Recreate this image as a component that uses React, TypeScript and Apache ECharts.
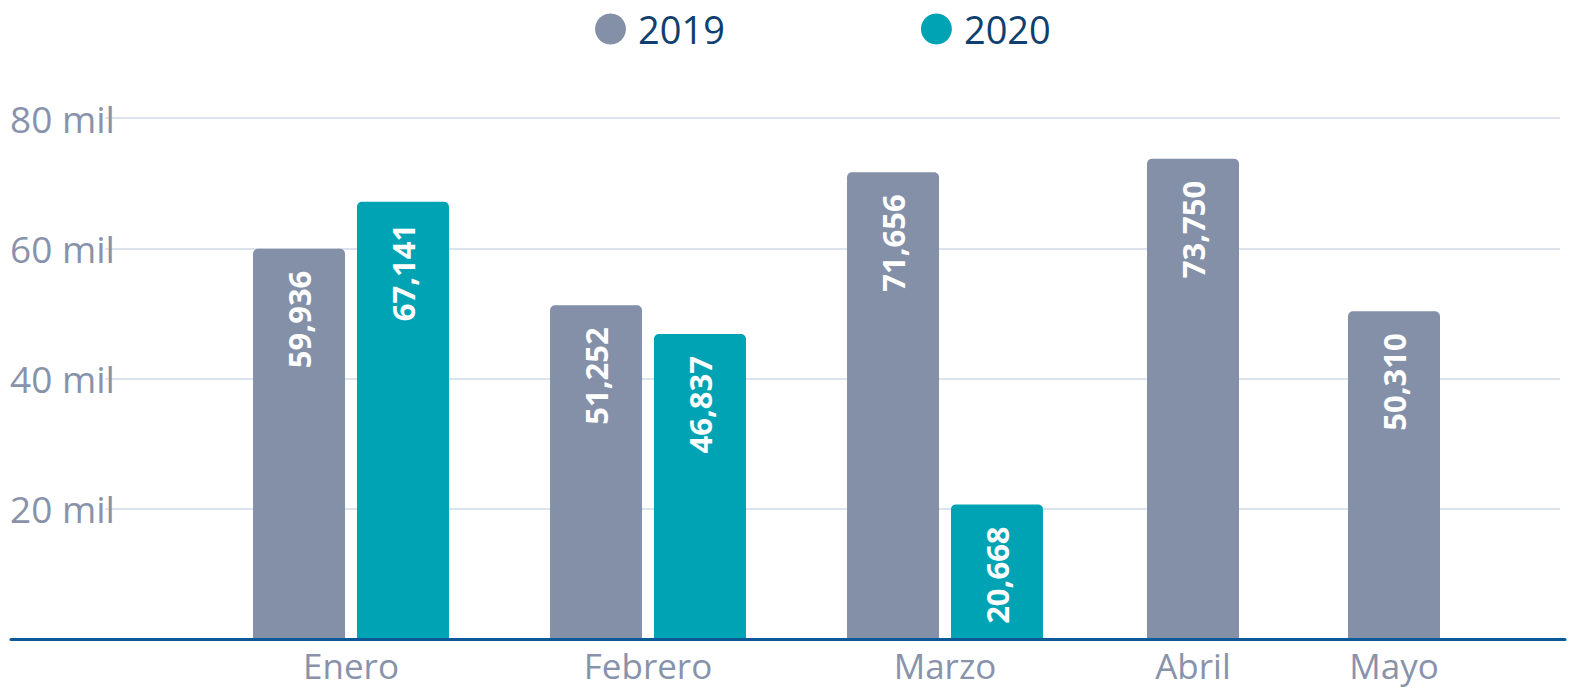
import React, { useEffect, useRef } from "react";
import * as echarts from "echarts";

const months = ["Enero", "Febrero", "Marzo", "Abril", "Mayo"];
const values2019 = [59936, 51252, 71656, 73750, 50310];
const values2020 = [67141, 46837, 20668];
const yTicks = [0, 20000, 40000, 60000, 80000];

const GRAY = "#8490a8";
const TEAL = "#00a3b4";
const AXIS_TXT = "#8893ab";
const FONT = "'Open Sans', sans-serif";

export default function App() {
  const ref = useRef<HTMLDivElement>(null);
  useEffect(() => {
    if (!ref.current) return;
    const chart = echarts.init(ref.current, null, { renderer: "svg" });
    const pairMonths = months.slice(0, values2020.length);
    const singleMonths = months.slice(values2020.length);
    const yMax = yTicks[yTicks.length - 1];
    const barLabel = {
      show: true,
      position: "insideTop",
      rotate: 90,
      align: "right",
      verticalAlign: "middle",
      distance: 22,
      color: "#ffffff",
      fontWeight: "bold",
      fontSize: 31,
      fontFamily: FONT,
      formatter: (p: any) => Number(p.value).toLocaleString("en-US"),
    };
    const catLabel = { color: AXIS_TXT, fontSize: 35, fontFamily: FONT, margin: 9 };
    const hiddenY = (gi: number) => ({
      type: "value",
      gridIndex: gi,
      min: 0,
      max: yMax,
      interval: 20000,
      show: false,
    });
    chart.setOption({
      animation: false,
      legend: {
        data: ["2019", "2020"],
        left: 590,
        top: 5,
        icon: "circle",
        itemWidth: 31,
        itemHeight: 31,
        itemGap: 196,
        textStyle: { fontSize: 38, color: "#0e3f6e", fontFamily: FONT, padding: [0, 0, 0, 7] },
      },
      grid: [
        { left: 105, right: 11, top: 118, bottom: 51 },
        { left: 202.5, right: 477.5, top: 118, bottom: 51 },
        { left: 1092.5, right: 76.5, top: 118, bottom: 51 },
        { left: 11, right: 6, top: 118, bottom: 51 },
      ],
      xAxis: [
        { type: "category", gridIndex: 0, data: ["a"], show: false },
        {
          type: "category",
          gridIndex: 1,
          data: pairMonths,
          axisLine: { show: false },
          axisTick: { show: false },
          axisLabel: catLabel,
        },
        {
          type: "category",
          gridIndex: 2,
          data: singleMonths,
          axisLine: { show: false },
          axisTick: { show: false },
          axisLabel: catLabel,
        },
        {
          type: "category",
          gridIndex: 3,
          data: ["a"],
          axisLine: { show: true, lineStyle: { color: "#0b5a97", width: 3 } },
          axisTick: { show: false },
          axisLabel: { show: false },
          z: 10,
        },
      ],
      yAxis: [
        {
          type: "value",
          gridIndex: 0,
          min: 0,
          max: yMax,
          interval: 20000,
          axisLine: { show: false },
          axisTick: { show: false },
          splitLine: { lineStyle: { color: "#dde3ee", width: 2 } },
          axisLabel: {
            color: AXIS_TXT,
            fontSize: 37,
            fontFamily: FONT,
            align: "left",
            margin: 95,
            formatter: (v: number) => (v === 0 ? "" : `${v / 1000} mil`),
          },
        },
        hiddenY(1),
        hiddenY(2),
        hiddenY(3),
      ],
      series: [
        {
          name: "2019",
          type: "bar",
          xAxisIndex: 1,
          yAxisIndex: 1,
          data: values2019.slice(0, values2020.length),
          barWidth: 92,
          barGap: "13%",
          itemStyle: { color: GRAY, borderRadius: [5, 5, 0, 0] },
          label: barLabel,
        },
        {
          name: "2020",
          type: "bar",
          xAxisIndex: 1,
          yAxisIndex: 1,
          data: values2020,
          barWidth: 92,
          barGap: "13%",
          itemStyle: { color: TEAL, borderRadius: [5, 5, 0, 0] },
          label: barLabel,
        },
        {
          name: "2019",
          type: "bar",
          xAxisIndex: 2,
          yAxisIndex: 2,
          data: values2019.slice(values2020.length),
          barWidth: 92,
          itemStyle: { color: GRAY, borderRadius: [5, 5, 0, 0] },
          label: barLabel,
        },
      ],
    });
    return () => chart.dispose();
  }, []);
  return (
    <div
      ref={ref}
      style={{ position: "fixed", left: 0, top: 0, width: 1571, height: 690, background: "#fff" }}
    />
  );
}
